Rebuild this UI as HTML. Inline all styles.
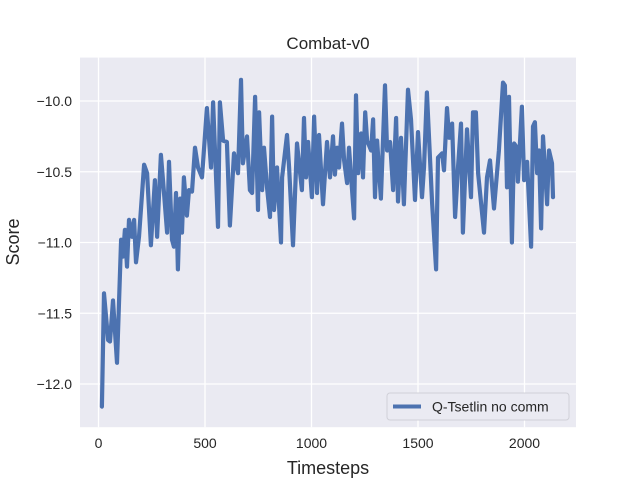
<!DOCTYPE html>
<html><head><meta charset="utf-8"><style>
body{margin:0;background:#fff;}
svg{display:block;font-family:"Liberation Sans","DejaVu Sans",sans-serif;}
</style></head><body>
<svg width="640" height="480" id="c">
<rect x="0" y="0" width="640" height="480" fill="#fff"/>
<rect x="80" y="57.6" width="496" height="369.6" fill="#eaeaf2"/>
<g id="grid"></g>
<g id="ticks"></g>
<g id="series"></g>
<text x="328" y="49" font-size="17" text-anchor="middle" fill="#262626">Combat-v0</text>
<text x="328" y="474" font-size="18" text-anchor="middle" fill="#262626">Timesteps</text>
<text x="19" y="242" font-size="18" text-anchor="middle" fill="#262626" transform="rotate(-90 19 242)">Score</text>
<g>
<rect x="387" y="393" width="182" height="27" rx="3" fill="#eaeaf2" stroke="#d0d0d8"/>
<line x1="393" y1="406.5" x2="421" y2="406.5" stroke="#4c72b0" stroke-width="4"/>
<text x="432" y="411.5" font-size="14" fill="#262626">Q-Tsetlin no comm</text>
</g>
</svg>
<script>
const xTicks=[0,500,1000,1500,2000];
const yTicks=[-10.0,-10.5,-11.0,-11.5,-12.0];
const yTickLabels=["\u221210.0","\u221210.5","\u221211.0","\u221211.5","\u221212.0"];
const timesteps=[16,26,45,54,68,87,106,115,124,134,143,157,167,176,190,214,228,246,265,275,293,303,322,331,345,354,364,373,383,392,401,415,425,439,453,467,486,509,528,538,561,570,585,603,617,636,655,669,678,697,711,721,735,749,754,768,777,791,805,815,824,838,857,862,885,895,913,932,955,965,974,984,1002,1012,1026,1035,1054,1073,1087,1101,1110,1120,1129,1143,1153,1167,1176,1200,1209,1219,1233,1242,1252,1261,1280,1289,1298,1308,1326,1345,1355,1369,1383,1397,1406,1420,1434,1453,1467,1486,1500,1519,1528,1542,1566,1585,1594,1613,1622,1636,1646,1660,1674,1688,1702,1711,1730,1749,1758,1772,1782,1810,1824,1838,1857,1880,1899,1908,1918,1927,1941,1951,1965,1969,1988,1998,2012,2031,2040,2049,2059,2068,2078,2087,2106,2115,2129,2134];
const scores=[-12.16,-11.36,-11.69,-11.70,-11.41,-11.85,-10.98,-11.10,-10.91,-11.17,-10.84,-10.96,-10.84,-11.14,-10.96,-10.45,-10.51,-11.02,-10.56,-10.96,-10.38,-10.56,-10.93,-10.43,-10.98,-11.03,-10.65,-11.19,-10.69,-10.93,-10.54,-10.81,-10.63,-10.64,-10.33,-10.47,-10.54,-10.05,-10.47,-10.01,-10.89,-10.01,-10.28,-10.29,-10.88,-10.37,-10.51,-9.85,-10.44,-10.25,-10.63,-10.65,-9.97,-10.77,-10.08,-10.63,-10.33,-10.61,-10.82,-10.11,-10.77,-10.47,-11.00,-10.54,-10.24,-10.47,-11.02,-10.30,-10.63,-10.12,-10.54,-10.29,-10.68,-10.11,-10.65,-10.24,-10.73,-10.29,-10.54,-10.25,-10.52,-10.33,-10.47,-10.16,-10.42,-10.58,-10.33,-10.83,-9.96,-10.51,-10.23,-10.54,-10.08,-10.28,-10.35,-10.13,-10.68,-10.28,-10.69,-9.89,-10.35,-10.29,-10.63,-10.12,-10.71,-10.26,-10.73,-9.92,-10.13,-10.70,-10.22,-10.68,-10.47,-9.94,-10.72,-11.19,-10.40,-10.37,-10.49,-10.05,-10.26,-10.16,-10.82,-10.47,-10.16,-10.93,-10.20,-10.68,-10.08,-10.08,-10.51,-10.93,-10.54,-10.42,-10.76,-10.35,-9.87,-9.89,-10.61,-9.97,-11.00,-10.30,-10.33,-10.57,-10.04,-10.56,-10.43,-11.03,-10.18,-10.15,-10.51,-10.35,-10.90,-10.25,-10.73,-10.35,-10.44,-10.68];
const X0=80,X1=576,Y0=57.6,Y1=427.2;
function xs(v){return 98.5+v*0.213;}
function ys(v){return 101-(v+10)*141.5;}
const NS="http://www.w3.org/2000/svg";
const grid=document.getElementById('grid'),ticks=document.getElementById('ticks'),series=document.getElementById('series');
xTicks.forEach(t=>{
 const l=document.createElementNS(NS,'line');
 
 
 l.setAttribute('x1',xs(t));l.setAttribute('x2',xs(t));l.setAttribute('y1',Y0);l.setAttribute('y2',Y1);
 l.setAttribute('stroke','#fff');l.setAttribute('stroke-width','1.3');grid.appendChild(l);
 const tx=document.createElementNS(NS,'text');
 
 
 tx.setAttribute('x',xs(t));tx.setAttribute('y',448);tx.setAttribute('font-size','14');
 tx.setAttribute('text-anchor','middle');tx.setAttribute('fill','#262626');tx.textContent=t;ticks.appendChild(tx);
});
yTicks.forEach((t,i)=>{
 const l=document.createElementNS(NS,'line');
 
 
 l.setAttribute('x1',X0);l.setAttribute('x2',X1);l.setAttribute('y1',ys(t));l.setAttribute('y2',ys(t));
 l.setAttribute('stroke','#fff');l.setAttribute('stroke-width','1.3');grid.appendChild(l);
 const tx=document.createElementNS(NS,'text');
 
 
 tx.setAttribute('x',72);tx.setAttribute('y',ys(t)+5);tx.setAttribute('font-size','14');
 tx.setAttribute('text-anchor','end');tx.setAttribute('fill','#262626');tx.textContent=yTickLabels[i];ticks.appendChild(tx);
});
const p=document.createElementNS(NS,'polyline');


p.setAttribute('points',timesteps.map((t,i)=>xs(t).toFixed(1)+','+ys(scores[i]).toFixed(1)).join(' '));
p.setAttribute('fill','none');p.setAttribute('stroke','#4c72b0');p.setAttribute('stroke-width','4.2');
p.setAttribute('stroke-linejoin','round');p.setAttribute('stroke-linecap','round');
series.appendChild(p);
</script>
</body></html>
